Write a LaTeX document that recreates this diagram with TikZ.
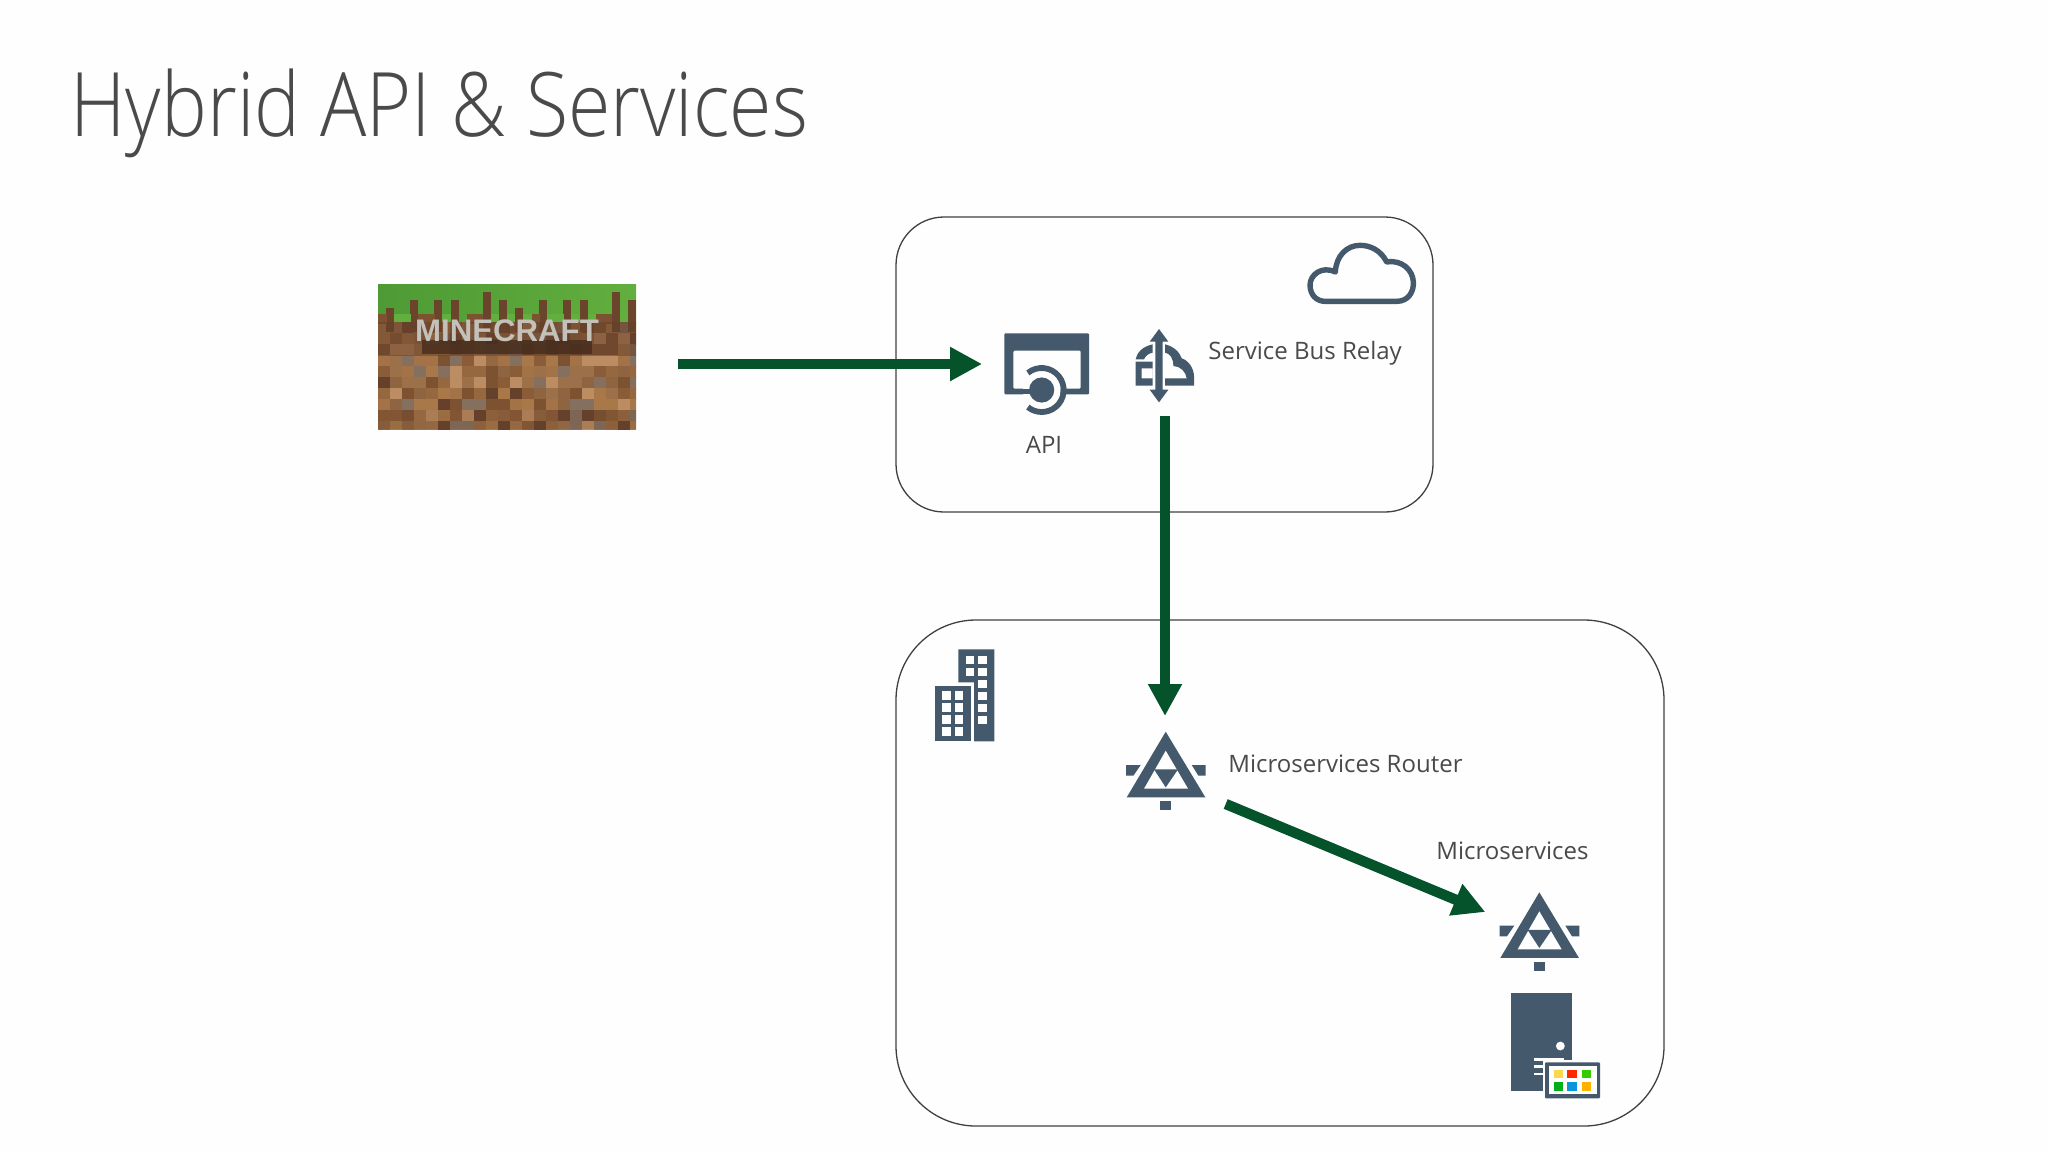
\documentclass[tikz,border=0pt]{standalone}
\usepackage{fontspec}
\usetikzlibrary{arrows.meta}
\setmainfont{Open Sans}
\newfontfamily\lightfont[FakeStretch=0.866]{Open Sans Light}
\newfontfamily\logofont{Liberation Sans Bold}
\definecolor{iconc}{HTML}{44596C}
\definecolor{flowc}{HTML}{04532A}
\definecolor{textc}{HTML}{4A4A4A}
\definecolor{boxc}{HTML}{404040}
\definecolor{bgc}{HTML}{FEFEFE}
\definecolor{mc0}{HTML}{8A5C38}
\definecolor{mc1}{HTML}{96683F}
\definecolor{mc2}{HTML}{7C5231}
\definecolor{mc3}{HTML}{A87848}
\definecolor{mc4}{HTML}{BC8D62}
\definecolor{mc5}{HTML}{65402A}
\definecolor{mc6}{HTML}{9C7048}
\definecolor{mc7}{HTML}{85705F}
\definecolor{mc8}{HTML}{8F6440}
\definecolor{mc9}{HTML}{A37347}
\definecolor{grassa}{HTML}{4E9A35}
\definecolor{grassb}{HTML}{62AE3E}
\definecolor{grassc}{HTML}{78C448}
\definecolor{logoc}{HTML}{C4C0BA}
\tikzset{
  panel/.style={draw=boxc,line width=0.65pt,fill=none},
  flow/.style={draw=flowc,line width=5.2pt,-{Triangle[length=16pt,width=16pt]}},
  lbl/.style={text=textc,font=\fontsize{12pt}{14pt}\selectfont,anchor=base west,inner sep=0pt},
  hold/.style={inner sep=0pt,outer sep=0pt,draw=none},
  zoomed/.style={x=0.16667pt,y=-0.16667pt},
  msicon/.pic={
    \begin{scope}[zoomed]
    \fill[iconc] (0,0) -- (-117,197) -- (119,197) -- cycle;
    \fill[bgc] (0,57) -- (-65,171) -- (67,171) -- cycle;
    \fill[iconc] (-35,113) -- (37,113) -- (0,167) -- cycle;
    \fill[iconc] (-119,100) -- (-75,100) -- (-97,132) -- (-119,132) -- cycle;
    \fill[iconc] (78,100) -- (120,100) -- (120,132) -- (98,132) -- cycle;
    \fill[iconc] (-16,209) rectangle (17,235);
    \end{scope}
  }
}
\begin{document}
\begin{tikzpicture}[x=0.5pt,y=-0.5pt]
\useasboundingbox (0,0) rectangle (2048,1152);
\fill[bgc] (0,0) rectangle (2048,1152);

\node[text=textc,anchor=base west,inner sep=0pt,font=\lightfont\fontsize{44.5pt}{50pt}\selectfont] (title) at (70,136) {Hybrid API \& Services};

% panels
\draw[panel,rounded corners=24pt] (896,217) rectangle (1433,512);
\draw[panel,rounded corners=40pt] (896,620) rectangle (1664,1126);

% game picture
\node[hold,minimum width=129pt,minimum height=72.5pt] (mc) at (507,356.5) {};
\begin{scope}
\clip (378,284) rectangle (636,429);
\shade[left color=grassa,middle color=grassc,right color=grassb] (378,284) rectangle (636,324);
\fill[mc8] (378,322) rectangle (636,429);
\pgfmathsetseed{23}
% earth, in blocks
\foreach \j in {0,...,9}{
  \foreach \i in {0,...,21}{
    \pgfmathrandominteger{\mcr}{0}{9}
    \fill[mc\mcr] ({378+12*\i},{322+11*\j}) rectangle +(12.5,11.5);
  }
}
% grass teeth
\foreach \i/\b in {1/3,4/2,7/2,9/2,13/1,15/2,17/3,20/2,23/2,25/2,29/1,31/2}{
  \fill[mc5!80!mc2] ({378+8.06*\i},{284+8*\b}) rectangle +(8,{48-8*\b});
}
\foreach \i in {0,5,6,11,12,19,27,28}{
  \fill[mc2] ({378+8.06*\i},314) rectangle +(8.5,10);
}
\foreach \i in {2,3,8,14,16,18,21,22,24,26,30}{
  \fill[grassb] ({378+8.06*\i},314) rectangle +(8.5,8);
}
\fill[black!70!mc5,opacity=0.78] (422,340) rectangle (592,354);
\fill[mc5,opacity=0.55] (378,322) rectangle (636,356);
\fill[mc5,opacity=0.2] (378,410) rectangle (636,429);
\end{scope}
\node[text=logoc,inner sep=0pt,font=\logofont\fontsize{15.6pt}{18pt}\selectfont] (logo) at (507,331) {MINECRAFT};

% API icon
\node[hold,minimum width=42.5pt,minimum height=41pt] (api) at (1046.6,374) {};
\begin{scope}[shift={(960,230)},zoomed]
\fill[iconc,rounded corners=0.5pt,even odd rule] (133,310) rectangle (387,493) (160,362) rectangle (362,476);
\fill[bgc] (245,480) circle[radius=9.5pt];
\fill[iconc] (160,476) rectangle (220,493);
\draw[iconc,line width=2.9pt] (245,480) ++(129:11pt) arc[start angle=129,end angle=-129,radius=11pt];
\fill[iconc] (245,480) circle[radius=6.3pt];
\end{scope}
\node[text=textc,font=\fontsize{12pt}{14pt}\selectfont,anchor=base,inner sep=0pt] (apilbl) at (1044,453) {API};

% relay icon
\node[hold,minimum width=30pt,minimum height=36.5pt] (relay) at (1159,365.6) {};
\begin{scope}[shift={(960,230)},zoomed]
\fill[iconc] (597,297) -- (625,335) -- (608,335) -- (608,479) -- (625,479) -- (597,517) -- (569,479) -- (586,479) -- (586,335) -- (569,335) -- cycle;
\fill[iconc] (578,343) .. controls (545,350) and (530,370) .. (527,388) -- (552,388) .. controls (556,378) and (565,370) .. (578,368) -- cycle;
\fill[iconc,even odd rule] (527,395) rectangle (578,467) (545,415) rectangle (578,445);
\fill[iconc] (615,343) .. controls (645,350) and (660,370) .. (665,385) .. controls (690,393) and (702,420) .. (702,440) -- (702,467) -- (615,467) -- (615,445) -- (680,445) .. controls (678,425) and (660,408) .. (640,408) .. controls (640,385) and (630,370) .. (615,368) -- cycle;
\end{scope}
\node[lbl] (relaylbl) at (1208,359) {Service Bus Relay};

% cloud icon
\node[hold,minimum width=54.5pt,minimum height=30.5pt] (cloud) at (1361.5,273.5) {};
\begin{scope}[shift={(960,230)},zoomed]
\draw[iconc,line width=2.7pt,line join=round] (1095,214) -- (1310,214) .. controls (1345,214) and (1362,185) .. (1360,155) .. controls (1358,120) and (1325,88) .. (1280,96) .. controls (1262,60) and (1230,46) .. (1200,46) .. controls (1160,46) and (1128,78) .. (1126,126) .. controls (1085,106) and (1050,135) .. (1050,165) .. controls (1050,195) and (1070,214) .. (1095,214) -- cycle;
\end{scope}

% buildings icon
\node[hold,minimum width=30pt,minimum height=46pt] (bld) at (964.5,695) {};
\begin{scope}[shift={(900,630)},zoomed]
\fill[iconc] (104,167) rectangle (212,334);
\fill[iconc] (175,58) -- (283,58) -- (283,334) -- (222,334) -- (222,157) -- (175,157) -- cycle;
\foreach \yy in {184,220,256,292}{
  \fill[bgc] (127,\yy) rectangle +(25,25);
  \fill[bgc] (164,\yy) rectangle +(25,25);
}
\foreach \yy in {78,113}{
  \fill[bgc] (197,\yy) rectangle +(25,25);
}
\foreach \yy in {78,113,149,185,221,257}{
  \fill[bgc] (235,\yy) rectangle +(25,25);
}
\end{scope}

% router icon
\node[hold,minimum width=40pt,minimum height=45pt] (router) at (1165.7,770) {};
\pic at (1165.7,731.7) {msicon};
\node[lbl] (routerlbl) at (1228,772) {Microservices Router};

% microservices icon
\node[hold,minimum width=40pt,minimum height=45pt] (micro) at (1539.3,931) {};
\pic at (1539.3,892.3) {msicon};
\node[lbl] (microlbl) at (1436,859) {Microservices};

% server icon
\node[hold,minimum width=45pt,minimum height=53pt] (srv) at (1532,1043) {};
\begin{scope}[shift={(1440,880)},zoomed]
\fill[iconc] (213,340) rectangle (395,633);
\fill[bgc] (361,498) circle[radius=2.2pt];
\fill[bgc] (283,535) rectangle (372,542);
\fill[bgc] (283,556) rectangle (313,563);
\fill[bgc] (283,578) rectangle (313,586);
\fill[bgc] (308,540) rectangle (487,662);
\fill[iconc,rounded corners=0.5pt] (315,547) rectangle (480,655);
\fill[bgc] (326,557) rectangle (470,642);
\fill[yellow!60!orange!70!white] (343,570) rectangle (370,595);
\fill[red!70!orange] (382,570) rectangle (412,595);
\fill[green!60!olive] (425,570) rectangle (452,595);
\fill[green!65!black!90!cyan] (343,606) rectangle (370,632);
\fill[cyan!80!blue] (382,606) rectangle (412,632);
\fill[orange!60!yellow] (425,606) rectangle (452,632);
\end{scope}

% connectors
\draw[flow] ([shift={(42,7.5)}]mc.east) -- ([xshift=-11pt]api.west |- 0,364);
\draw[flow] ([shift={(6,14)}]relay.south) -- ([shift={(-0.7,-9)}]router.north);
\draw[flow] ([shift={(20,34)}]router.east) -- ([shift={(-14,-19)}]micro.west);
\end{tikzpicture}
\end{document}
